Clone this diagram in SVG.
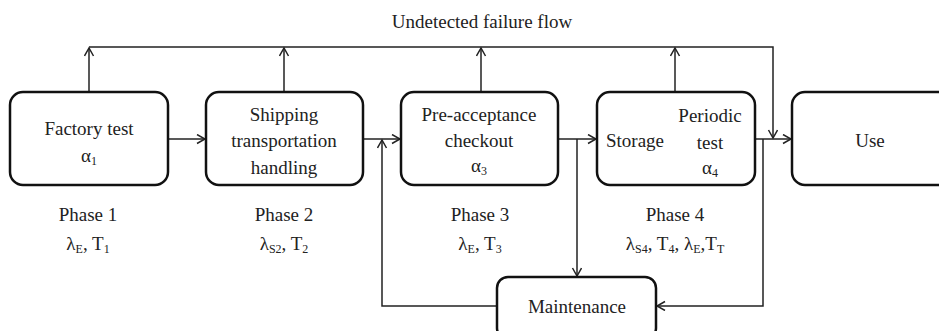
<svg xmlns="http://www.w3.org/2000/svg" width="939" height="331" viewBox="0 0 939 331">
<style>
.box{fill:#fff;stroke:#111;stroke-width:2.5}
.ln{fill:none;stroke:#222;stroke-width:1.5}
text{font-family:'Liberation Serif','Times New Roman','DejaVu Serif',serif;font-size:19px;fill:#222;text-anchor:middle}
.sub{font-size:12px}
</style>
<defs>
<marker id="arr" markerUnits="userSpaceOnUse" markerWidth="12" markerHeight="12" refX="9" refY="5" orient="auto">
<path d="M1,0.5 L9,5 L1,9.5" fill="none" stroke="#222" stroke-width="1.5"/>
</marker>
</defs>
<rect width="939" height="331" fill="#fff"/>
<text x="482" y="28">Undetected failure flow</text>
<g id="connectors">
<path class="ln" d="M89,47 H773 V138" marker-end="url(#arr)"/>
<path class="ln" d="M89,92 V48" marker-end="url(#arr)"/>
<path class="ln" d="M284,92 V48" marker-end="url(#arr)"/>
<path class="ln" d="M481,92 V48" marker-end="url(#arr)"/>
<path class="ln" d="M675,92 V48" marker-end="url(#arr)"/>
<path class="ln" d="M168,139 H205" marker-end="url(#arr)"/>
<path class="ln" d="M363,139 H400" marker-end="url(#arr)"/>
<path class="ln" d="M558,139 H596" marker-end="url(#arr)"/>
<path class="ln" d="M755,139 H791" marker-end="url(#arr)"/>
<path class="ln" d="M577,139 V276" marker-end="url(#arr)"/>
<path class="ln" d="M763,139 V306 H657" marker-end="url(#arr)"/>
<path class="ln" d="M497,306 H382 V140" marker-end="url(#arr)"/>
</g>
<g id="factory">
<rect class="box" x="10" y="92" width="158" height="93" rx="13"/>
<text x="89" y="135">Factory test</text>
<text x="89" y="162">α<tspan class="sub" dy="3">1</tspan></text>
</g>
<g id="shipping">
<rect class="box" x="206" y="92" width="157" height="93" rx="13"/>
<text x="284" y="121">Shipping</text>
<text x="284" y="147">transportation</text>
<text x="284" y="174">handling</text>
</g>
<g id="preacceptance">
<rect class="box" x="401" y="92" width="157" height="93" rx="13"/>
<text x="479" y="121">Pre-acceptance</text>
<text x="479" y="147">checkout</text>
<text x="479" y="172">α<tspan class="sub" dy="3">3</tspan></text>
</g>
<g id="storage">
<rect class="box" x="597" y="92" width="158" height="93" rx="13"/>
<text x="606" y="147" style="text-anchor:start">Storage</text>
<text x="710" y="122">Periodic</text>
<text x="710" y="149">test</text>
<text x="710" y="174">α<tspan class="sub" dy="3">4</tspan></text>
</g>
<g id="use">
<rect class="box" x="792" y="92" width="170" height="93" rx="13"/>
<text x="870" y="147">Use</text>
</g>
<g id="maintenance">
<rect class="box" x="497" y="277" width="159" height="62" rx="11"/>
<text x="577" y="313">Maintenance</text>
</g>
<g id="phases">
<text x="88" y="221">Phase 1</text>
<text x="88" y="250">λ<tspan class="sub" dy="3">E</tspan><tspan dy="-3">, T</tspan><tspan class="sub" dy="3">1</tspan></text>
<text x="284" y="221">Phase 2</text>
<text x="284" y="250">λ<tspan class="sub" dy="3">S2</tspan><tspan dy="-3">, T</tspan><tspan class="sub" dy="3">2</tspan></text>
<text x="480" y="221">Phase 3</text>
<text x="480" y="250">λ<tspan class="sub" dy="3">E</tspan><tspan dy="-3">, T</tspan><tspan class="sub" dy="3">3</tspan></text>
<text x="675" y="221">Phase 4</text>
<text x="675" y="250">λ<tspan class="sub" dy="3">S4</tspan><tspan dy="-3">, T</tspan><tspan class="sub" dy="3">4</tspan><tspan dy="-3">, λ</tspan><tspan class="sub" dy="3">E</tspan><tspan dy="-3">,T</tspan><tspan class="sub" dy="3">T</tspan></text>
</g>
</svg>
